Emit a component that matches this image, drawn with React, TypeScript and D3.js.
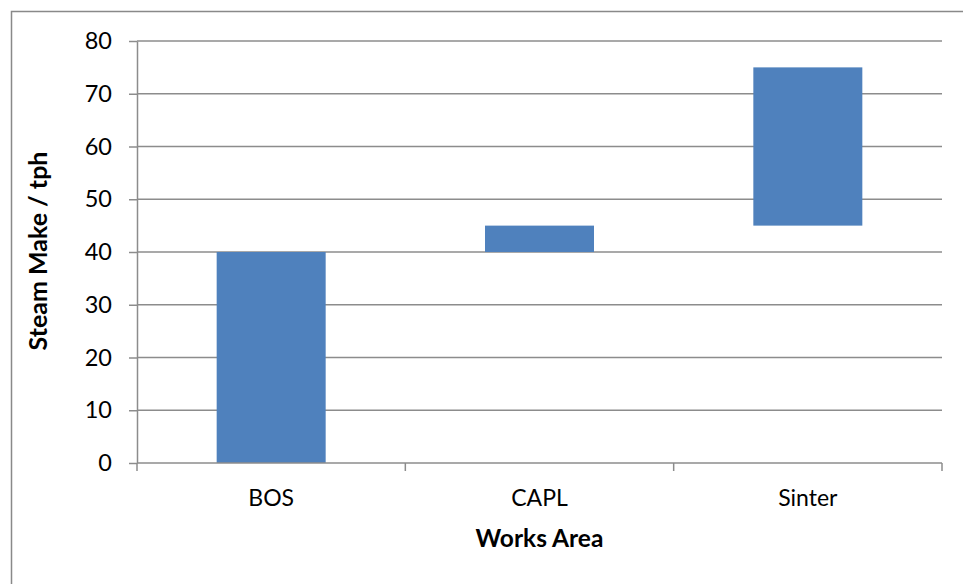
import React, { useRef, useEffect } from 'react';
import * as d3 from 'd3';

const categories = ['BOS', 'CAPL', 'Sinter'];
const barStart = [0, 40, 45];
const barEnd = [40, 45, 75];
const yTicks = [0, 10, 20, 30, 40, 50, 60, 70, 80];

const App: React.FC = () => {
  const svgRef = useRef<SVGSVGElement>(null);

  useEffect(() => {
    if (!svgRef.current) return;
    const svg = d3.select(svgRef.current);
    svg.selectAll('*').remove();

    const font = 'Lato, "Open Sans", sans-serif';
    const left = 137, right = 942, top = 41, bottom = 463;

    // outer chart border
    svg.append('rect')
      .attr('x', 11.5).attr('y', 11.5)
      .attr('width', 970).attr('height', 600)
      .attr('fill', '#fff').attr('stroke', '#898989').attr('stroke-width', 1.5);

    const x = d3.scaleBand<string>().domain(categories).range([left, right]).paddingInner(0).paddingOuter(0);
    const y = d3.scaleLinear().domain([0, 80]).range([bottom, top]);

    // gridlines
    svg.append('g')
      .selectAll('line')
      .data(yTicks.filter(t => t > 0))
      .enter().append('line')
      .attr('x1', left).attr('x2', right)
      .attr('y1', d => y(d)).attr('y2', d => y(d))
      .attr('stroke', '#8c8c8c').attr('stroke-width', 1.5);

    // bars
    const barW = 109;
    svg.append('g')
      .selectAll('rect')
      .data(categories)
      .enter().append('rect')
      .attr('x', d => x(d)! + x.bandwidth() / 2 - barW / 2)
      .attr('width', barW)
      .attr('y', (d, i) => y(barEnd[i]))
      .attr('height', (d, i) => y(barStart[i]) - y(barEnd[i]))
      .attr('fill', '#4f81bd');

    // y axis
    const yAxis = svg.append('g')
      .attr('transform', `translate(${left},0)`)
      .call(d3.axisLeft(y).tickValues(yTicks).tickSize(8).tickPadding(17).tickSizeOuter(0));
    yAxis.select('.domain').attr('stroke', '#8c8c8c').attr('stroke-width', 1.5);
    yAxis.selectAll('.tick line').attr('stroke', '#8c8c8c').attr('stroke-width', 1.5);
    yAxis.selectAll('.tick text')
      .style('font-family', font).style('font-size', '23.5px').attr('fill', '#000');

    // x axis
    const xAxis = svg.append('g').attr('transform', `translate(0,${bottom})`);
    xAxis.append('line')
      .attr('x1', left).attr('x2', right)
      .attr('stroke', '#8c8c8c').attr('stroke-width', 1.5);
    const bounds = [left, ...categories.map(c => x(c)! + x.bandwidth())];
    xAxis.selectAll('line.tk')
      .data(bounds)
      .enter().append('line')
      .attr('class', 'tk')
      .attr('x1', d => d).attr('x2', d => d)
      .attr('y1', 0).attr('y2', 8)
      .attr('stroke', '#8c8c8c').attr('stroke-width', 1.5);
    xAxis.selectAll('text')
      .data(categories)
      .enter().append('text')
      .attr('x', d => x(d)! + x.bandwidth() / 2)
      .attr('y', 43)
      .attr('text-anchor', 'middle')
      .style('font-family', font).style('font-size', '23px')
      .text(d => d);

    // axis titles
    svg.append('text')
      .attr('x', (left + right) / 2).attr('y', 547)
      .attr('text-anchor', 'middle')
      .style('font-family', font).style('font-size', '24.5px').style('font-weight', 'bold')
      .text('Works Area');

    svg.append('text')
      .attr('transform', `translate(47,251) rotate(-90)`)
      .attr('text-anchor', 'middle')
      .style('font-family', font).style('font-size', '25px').style('font-weight', 'bold')
      .text('Steam Make / tph');
  }, []);

  return <svg ref={svgRef} width={963} height={584} style={{ display: 'block', position: 'absolute', left: 0, top: 0 }} />;
};

export default App;
